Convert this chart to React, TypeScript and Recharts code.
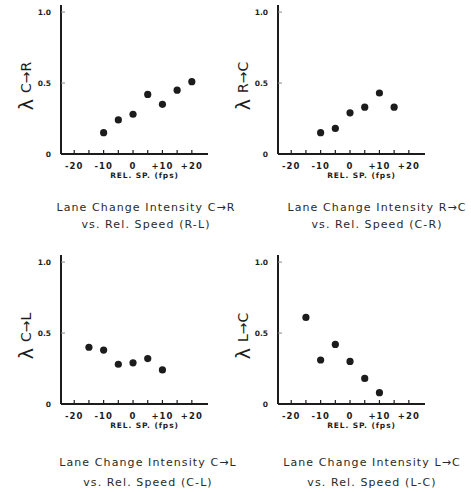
import { Label, Scatter, ScatterChart, XAxis, YAxis } from 'recharts'

// relative speed (fps) vs. lane change intensity, one pair per panel
const SPEED_TICKS = [-20, -15, -10, -5, 0, 5, 10, 15, 20]
const LAMBDA_TICKS = [0, 0.5, 1.0]

const crSpeed = [-10, -5, 0, 5, 10, 15, 20]
const crLambda = [0.15, 0.24, 0.28, 0.42, 0.35, 0.45, 0.51]

const rcSpeed = [-10, -5, 0, 5, 10, 15]
const rcLambda = [0.15, 0.18, 0.29, 0.33, 0.43, 0.33]

const clSpeed = [-15, -10, -5, 0, 5, 10]
const clLambda = [0.4, 0.38, 0.28, 0.29, 0.32, 0.24]

const lcSpeed = [-15, -10, -5, 0, 5, 10]
const lcLambda = [0.61, 0.31, 0.42, 0.3, 0.18, 0.08]

const INK = '#1c1c1c'
const FONT = '"DejaVu Sans", sans-serif'

function SpeedTick({ x, y, payload }: any) {
  const v = payload.value as number
  const label = v % 10 === 0 ? (v > 0 ? `+${v}` : `${v}`) : ''
  return (
    <g>
      <line x1={x} x2={x} y1={y - 4} y2={y} stroke={INK} strokeWidth={1.2} />
      {label && (
        <text
          x={x}
          y={y + 15}
          textAnchor="middle"
          fontSize={8.5}
          fontWeight={700}
          letterSpacing={1}
          fill={INK}
          fontFamily={FONT}
        >
          {label}
        </text>
      )}
    </g>
  )
}

function LambdaTick({ x, y, payload }: any) {
  const v = payload.value as number
  return (
    <g>
      {v > 0 && <line x1={x} x2={x + 4} y1={y} y2={y} stroke="#888" strokeWidth={1} />}
      <text
        x={x - 10}
        y={y + 3}
        textAnchor="end"
        fontSize={7.5}
        fontWeight={700}
        fill={INK}
        fontFamily={FONT}
      >
        {v === 0 ? '0' : v.toFixed(1)}
      </text>
    </g>
  )
}

const Dot = (props: any) => <circle cx={props.cx} cy={props.cy} r={3.6} fill={INK} />

interface PanelProps {
  speeds: number[]
  lambdas: number[]
  from: string
  to: string
  left: number
  top: number
  titleTop: number
  titleCenter: number
  lineHeight: number
  title: string
  subtitle: string
}

function Panel({ speeds, lambdas, from, to, left, top, titleTop, titleCenter, lineHeight, title, subtitle }: PanelProps) {
  const data = speeds.map((s, i) => ({ speed: s, lambda: lambdas[i] }))
  return (
    <>
      <div style={{ position: 'absolute', left, top }}>
        <ScatterChart width={230} height={190} margin={{ top: 5, right: 22, bottom: 6, left: 0 }}>
          <XAxis
            type="number"
            dataKey="speed"
            domain={[-24.5, 25.5]}
            ticks={SPEED_TICKS}
            tick={<SpeedTick />}
            tickLine={false}
            tickSize={0}
            tickMargin={0}
            interval={0}
            height={30}
            axisLine={{ stroke: INK, strokeWidth: 2 }}
          >
            <Label
              value="REL. SP. (fps)"
              position="insideBottom"
              offset={6}
              dx={10}
              style={{ fontSize: 7.5, fontWeight: 700, letterSpacing: 0.9, fill: INK, fontFamily: FONT }}
            />
          </XAxis>
          <YAxis
            type="number"
            dataKey="lambda"
            domain={[0, 1.05]}
            ticks={LAMBDA_TICKS}
            tick={<LambdaTick />}
            tickLine={false}
            tickSize={0}
            tickMargin={0}
            interval={0}
            width={61}
            axisLine={{ stroke: INK, strokeWidth: 2 }}
          >
            <Label
              content={() => (
                <text
                  x={26}
                  y={86}
                  transform="rotate(-90 26 86)"
                  textAnchor="middle"
                  dominantBaseline="central"
                  fill={INK}
                  fontFamily={FONT}
                >
                  <tspan fontSize={19}>λ</tspan>
                  <tspan fontSize={14} dx={6}>{`${from}→${to}`}</tspan>
                </text>
              )}
            />
          </YAxis>
          <Scatter data={data} shape={Dot} isAnimationActive={false} />
        </ScatterChart>
      </div>
      <div
        style={{
          position: 'absolute',
          left: titleCenter - 130,
          top: titleTop,
          width: 260,
          textAlign: 'center',
          fontFamily: FONT,
          fontSize: 11,
          letterSpacing: 1.1,
          lineHeight: `${lineHeight}px`,
          color: '#2a2a2a',
          whiteSpace: 'nowrap',
        }}
      >
        <div>{title}</div>
        <div>{subtitle}</div>
      </div>
    </>
  )
}

export default function App() {
  return (
    <div style={{ position: 'absolute', left: 0, top: 0, width: 471, height: 492, background: '#fff', overflow: 'hidden' }}>
      <Panel
        speeds={crSpeed}
        lambdas={crLambda}
        from="C"
        to="R"
        left={0}
        top={0}
        titleTop={199}
        titleCenter={146}
        lineHeight={17}
        title="Lane Change Intensity C→R"
        subtitle="vs. Rel. Speed (R-L)"
      />
      <Panel
        speeds={rcSpeed}
        lambdas={rcLambda}
        from="R"
        to="C"
        left={217}
        top={0}
        titleTop={199}
        titleCenter={377}
        lineHeight={17}
        title="Lane Change Intensity R→C"
        subtitle="vs. Rel. Speed (C-R)"
      />
      <Panel
        speeds={clSpeed}
        lambdas={clLambda}
        from="C"
        to="L"
        left={0}
        top={250}
        titleTop={453}
        titleCenter={148}
        lineHeight={20}
        title="Lane Change Intensity C→L"
        subtitle="vs. Rel. Speed (C-L)"
      />
      <Panel
        speeds={lcSpeed}
        lambdas={lcLambda}
        from="L"
        to="C"
        left={217}
        top={250}
        titleTop={453}
        titleCenter={372}
        lineHeight={20}
        title="Lane Change Intensity L→C"
        subtitle="vs. Rel. Speed (L-C)"
      />
    </div>
  )
}
